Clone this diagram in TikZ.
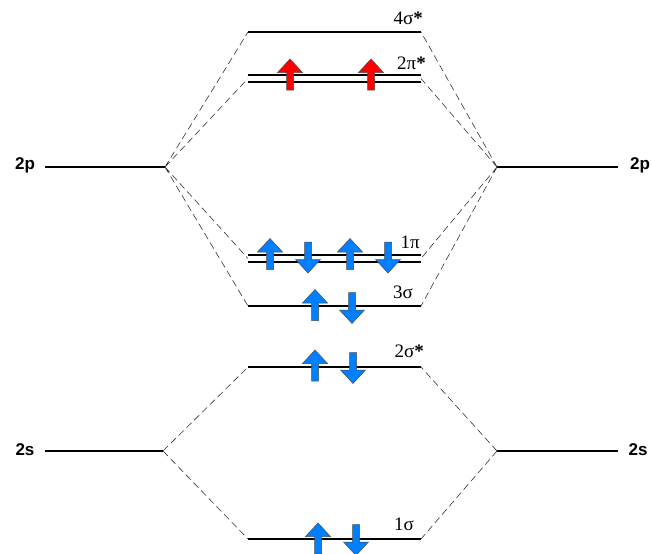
\documentclass[tikz,border=0pt]{standalone}
\usepackage{fontspec}
\setmainfont{Liberation Serif}
\setsansfont{Liberation Sans}
\usetikzlibrary{positioning}
\definecolor{spinblue}{RGB}{0,128,255}
\definecolor{spinred}{RGB}{255,0,0}
\newcommand{\st}{\textbf{*}}
\tikzset{
x=1pt, y=-1pt, % pixel units, y grows downwards
level/.style={line width=1.8pt}, % energy levels
corr/.style={line width=0.6pt, black!80, dash pattern=on 7pt off 4pt}, % correlation lines
molab/.style={font=\fontsize{19}{22}\selectfont, inner sep=0pt}, % MO labels
atlab/.style={font=\fontsize{17}{20}\selectfont\sffamily\bfseries, inner sep=0pt}, % AO labels
pics/spinup/.style={code={
  \filldraw[fill=#1, draw=black!70, line width=0.5pt]
    (0,-15.5) -- (12.5,-2) -- (3.5,-2) -- (3.5,15.5) -- (-3.5,15.5) -- (-3.5,-2) -- (-12.5,-2) -- cycle;}},
pics/spindown/.style={code={
  \filldraw[fill=#1, draw=black!70, line width=0.5pt]
    (0,15.5) -- (12.5,2) -- (3.5,2) -- (3.5,-15.5) -- (-3.5,-15.5) -- (-3.5,2) -- (-12.5,2) -- cycle;}},
}
\begin{document}
\begin{tikzpicture}
    \useasboundingbox (0,0) rectangle (651,554);

    % atomic levels
    \coordinate (pLa) at (45,167);  \coordinate (pL) at (165,167);
    \coordinate (pR) at (497,167);  \coordinate (pRb) at (618,167);
    \coordinate (sLa) at (45,451);  \coordinate (sL) at (163,451);
    \coordinate (sR) at (497,451);  \coordinate (sRb) at (618,451);

    % molecular levels
    \coordinate (s4a) at (248,32);    \coordinate (s4b) at (421,32);
    \coordinate (pi2a) at (248,75);   \coordinate (pi2b) at (421,75);
    \coordinate (pi2c) at (248,82);   \coordinate (pi2d) at (421,82);
    \coordinate (pi2m) at (248,78.5); \coordinate (pi2n) at (421,78.5);
    \coordinate (pi1a) at (248,255);  \coordinate (pi1b) at (421,255);
    \coordinate (pi1c) at (248,262);  \coordinate (pi1d) at (421,262);
    \coordinate (pi1m) at (248,258.5);\coordinate (pi1n) at (421,258.5);
    \coordinate (s3a) at (248,306);   \coordinate (s3b) at (421,306);
    \coordinate (s2a) at (248,367);   \coordinate (s2b) at (421,367);
    \coordinate (s1a) at (248,539);   \coordinate (s1b) at (421,539);

    \draw[level] (pLa) -- (pL)  (pR) -- (pRb)  (sLa) -- (sL)  (sR) -- (sRb);
    \draw[level] (s4a) -- (s4b)  (pi2a) -- (pi2b)  (pi2c) -- (pi2d)
                 (pi1a) -- (pi1b)  (pi1c) -- (pi1d)  (s3a) -- (s3b)
                 (s2a) -- (s2b)  (s1a) -- (s1b);

    \draw[corr] (pL) -- (s4a)  (pL) -- (pi2m)  (pL) -- (pi1m)  (pL) -- (s3a);
    \draw[corr] (pR) -- (s4b)  (pR) -- (pi2n)  (pR) -- (pi1n)  (pR) -- (s3b);
    \draw[corr] (sL) -- (s2a)  (sL) -- (s1a)  (sR) -- (s2b)  (sR) -- (s1b);

    \node[atlab] (lpL) at (25,165) {2p};
    \node[atlab] (lpR) at (640,165) {2p};
    \node[atlab] (lsL) at (25,450) {2s};
    \node[atlab] (lsR) at (638,450) {2s};

    \node[molab, anchor=east] (l4s) at (423,18) {4σ\st};
    \node[molab, anchor=east] (l2p) at (426,63) {2π\st};
    \node[molab, anchor=east] (l1p) at (420,242) {1π};
    \node[molab, anchor=east] (l3s) at (413,292) {3σ};
    \node[molab, anchor=east] (l2s) at (424,351) {2σ\st};
    \node[molab, anchor=east] (l1s) at (414,524) {1σ};

    % electrons
    \pic at (290,74.5) {spinup=spinred};
    \pic at (371,74.5) {spinup=spinred};
    \pic at (270,254) {spinup=spinblue};
    \pic at (308,257.5) {spindown=spinblue};
    \pic at (350,254) {spinup=spinblue};
    \pic at (388,257.5) {spindown=spinblue};
    \pic at (315,305) {spinup=spinblue};
    \pic at (352,308) {spindown=spinblue};
    \pic at (315,365.5) {spinup=spinblue};
    \pic at (353,368) {spindown=spinblue};
    \pic at (318,538.5) {spinup=spinblue};
    \pic at (356,540) {spindown=spinblue};
\end{tikzpicture}
\end{document}
